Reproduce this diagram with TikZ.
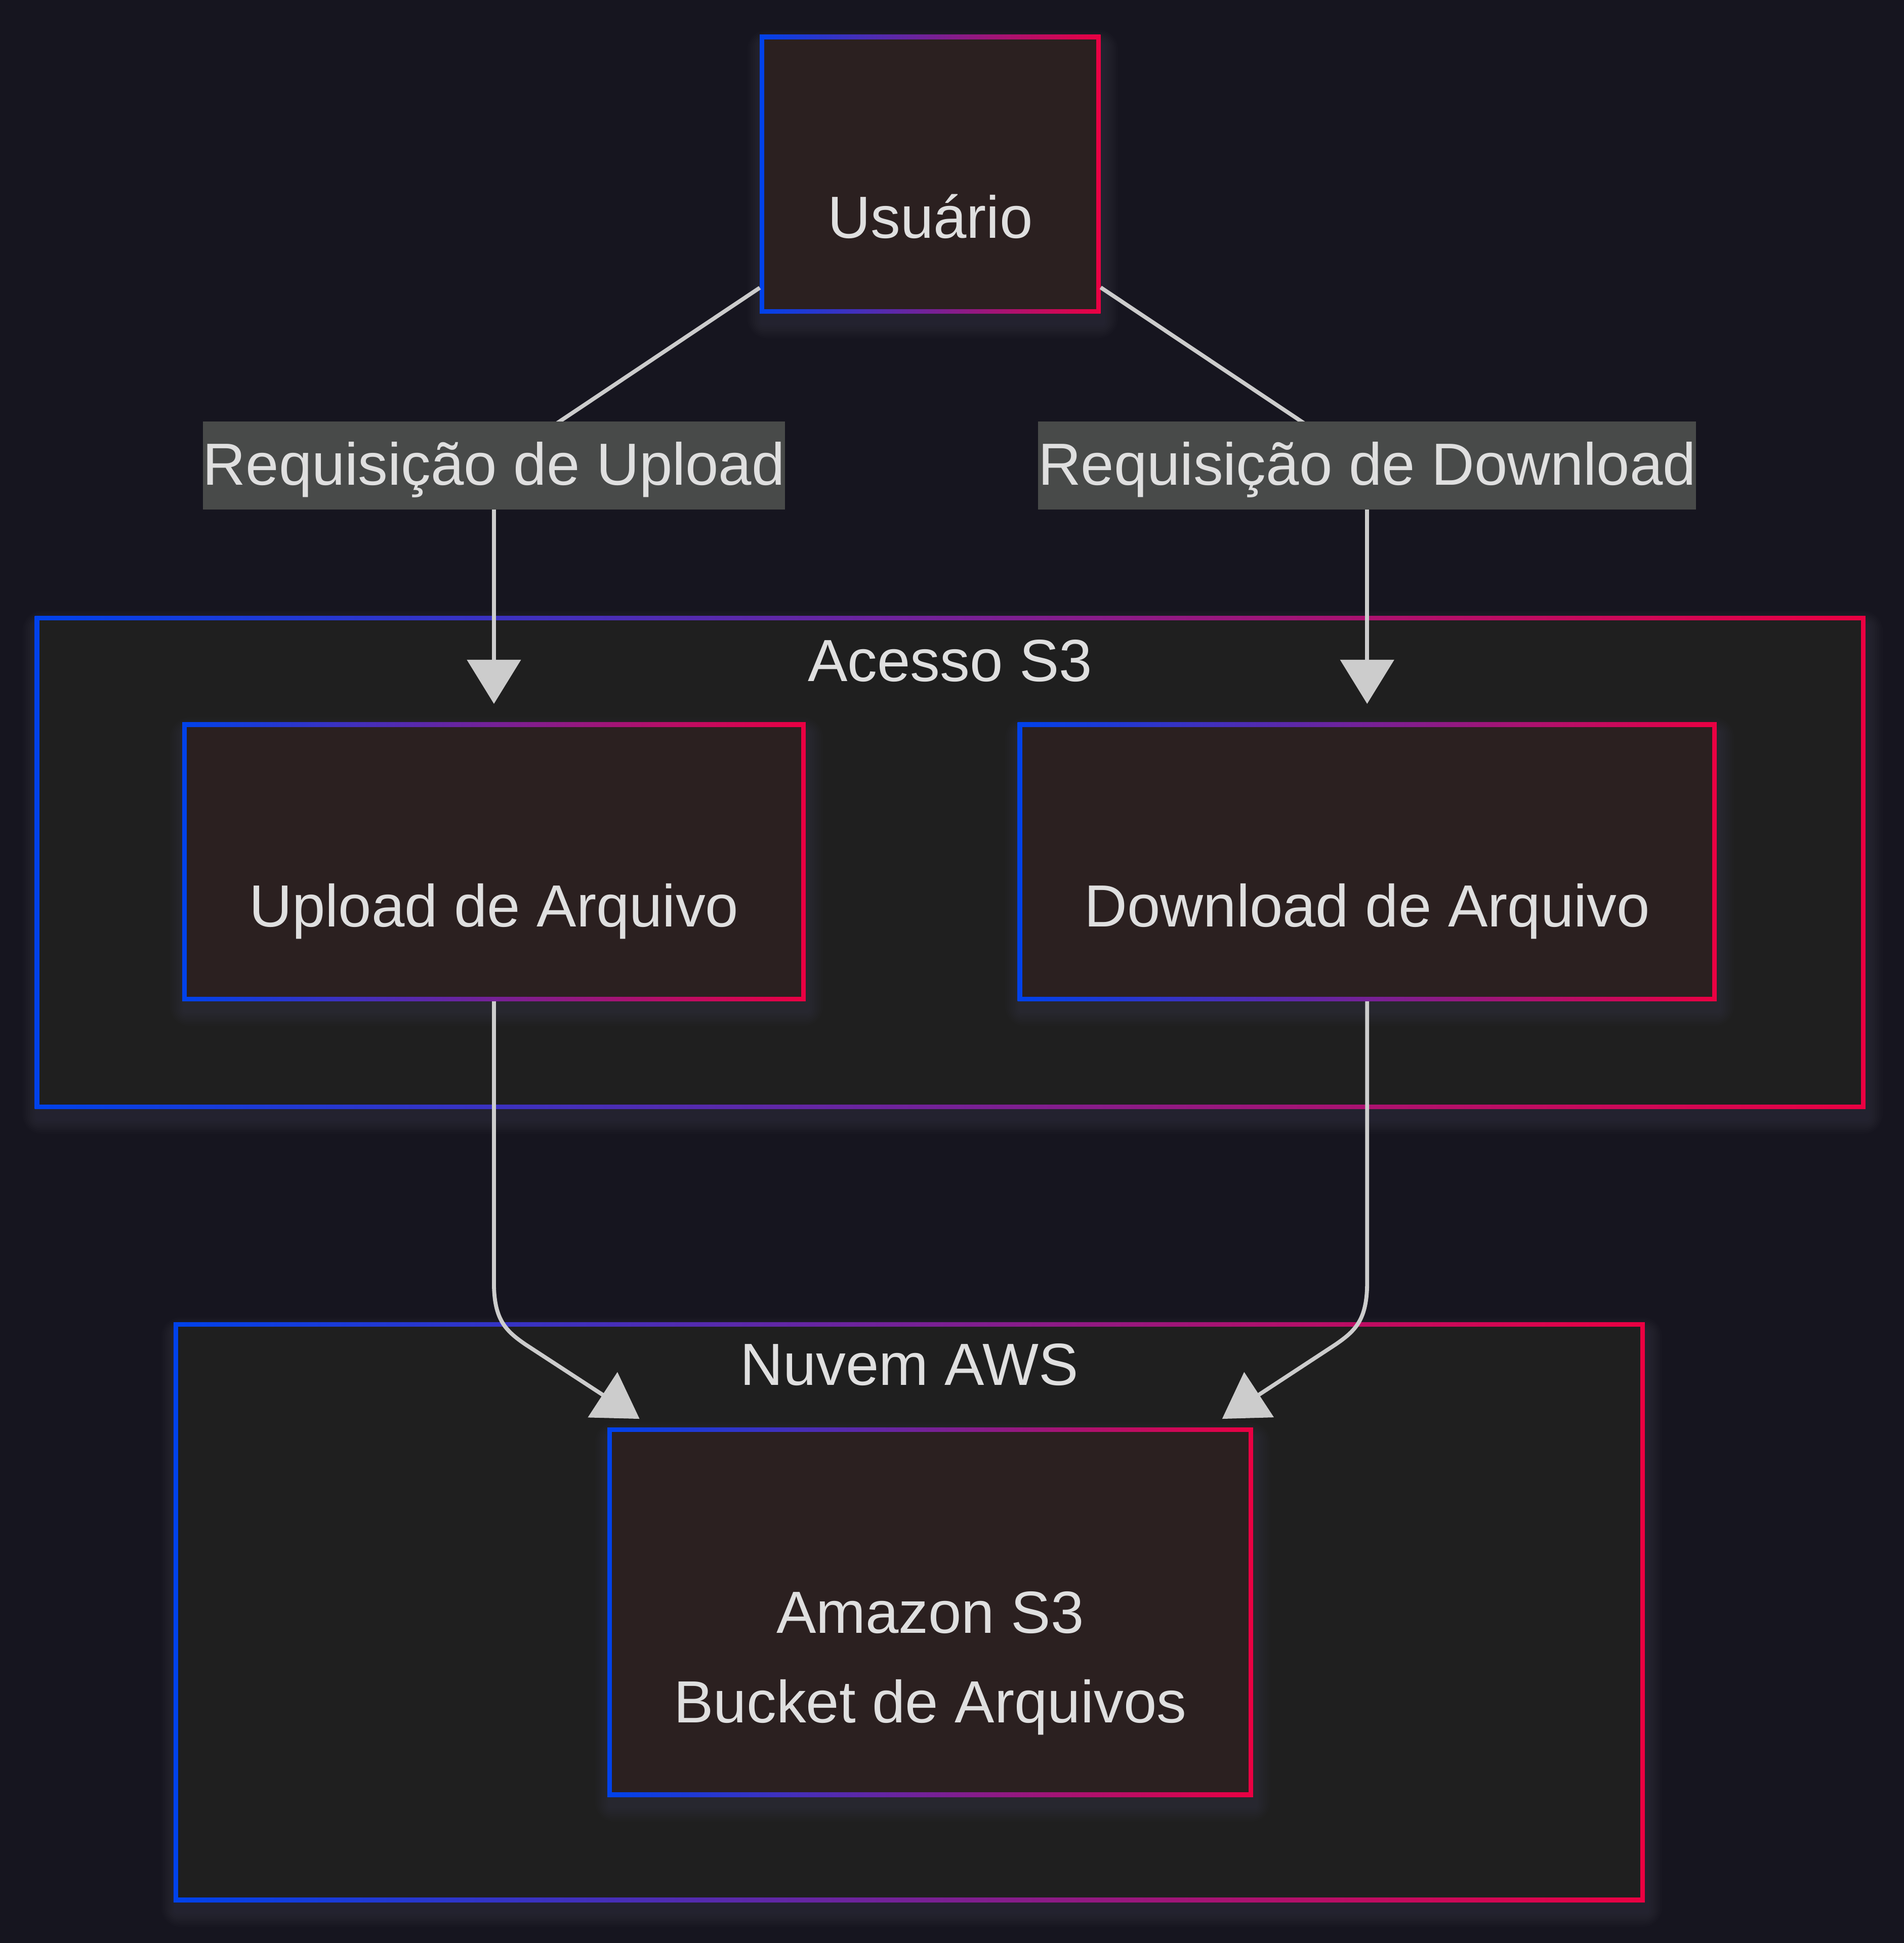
\documentclass[tikz,border=0pt]{standalone}
\usepackage{fontspec}
\setmainfont{Liberation Sans}
\usetikzlibrary{arrows.meta,calc}
\definecolor{bgc}{HTML}{16151F}
\definecolor{clusterc}{HTML}{1F1F1F}
\definecolor{nodec}{HTML}{2B2020}
\definecolor{gblue}{HTML}{0042EB}
\definecolor{gred}{HTML}{EB0042}
\definecolor{txtc}{HTML}{DFDFDF}
\definecolor{edgec}{HTML}{CCCCCC}
\definecolor{lblc}{HTML}{484A49}
\definecolor{glowc}{HTML}{C8C8E0}
\tikzset{
  gbox/.style={rectangle, inner sep=0pt, outer sep=0pt, draw=none,
    left color=gblue, right color=gred,
    path picture={\fill[#1] ([xshift=1.85pt,yshift=-1.85pt]path picture bounding box.north west)
      rectangle ([xshift=-1.85pt,yshift=1.85pt]path picture bounding box.south east);}},
  txt/.style={text=txtc, inner sep=0pt, outer sep=0pt, anchor=base,
    font=\fontsize{24pt}{36pt}\selectfont},
  lbl/.style={fill=lblc, text=txtc, inner xsep=0pt, inner ysep=0pt, outer sep=0pt,
    text height=25.7pt, text depth=9.8pt, font=\fontsize{24pt}{36pt}\selectfont},
  edge/.style={draw=edgec, line width=1.6pt},
  arr/.style={-{Triangle[width=21.5pt,length=17.8pt]}},
}
\newcommand\glowat[4]{%
  \foreach \r in {1,...,8}{%
    \fill[glowc, opacity=0.013, rounded corners=\r pt]
      ({#1-#3/2-1.5*\r+2},{#2-#4/2-1.5*\r+8}) rectangle ({#1+#3/2+1.5*\r+2},{#2+#4/2+1.5*\r+8});
  }}
\newcommand\boxnode[6]{% name, cx, cy, w, h, fill
  \glowat{#2}{#3}{#4}{#5}%
  \node[gbox=#6, minimum width={#4*0.5pt}, minimum height={#5*0.5pt}] (#1) at (#2,#3) {};
}
\begin{document}
\begin{tikzpicture}[x=0.5pt,y=-0.5pt]
\fill[bgc] (0,0) rectangle (1536,1568);
\useasboundingbox (0,0) rectangle (1536,1568);

% clusters
\boxnode{acesso}{766.5}{696}{1477}{398}{clusterc}
\node[txt] (acessoT) at (766.5,550) {Acesso S3};
\boxnode{nuvem}{733.5}{1301}{1187}{468}{clusterc}
\node[txt] (nuvemT) at (733.5,1118) {Nuvem AWS};

% nodes
\boxnode{user}{750.5}{140.5}{275}{225}{nodec}
\node[txt] (userT) at (750.5,192) {Usuário};
\boxnode{upload}{398.5}{695.5}{503}{225}{nodec}
\node[txt] (uploadT) at (398.5,748) {Upload de Arquivo};
\boxnode{download}{1103}{695.5}{564}{225}{nodec}
\node[txt] (downloadT) at (1103,748) {Download de Arquivo};
\boxnode{s3}{750.5}{1301}{521}{298}{nodec}
\node[txt] (s3T1) at (750.5,1318) {Amazon S3};
\node[txt] (s3T2) at (750.5,1390) {Bucket de Arquivos};

% label centres and arrow ends
\coordinate (lu) at (398.5,375.5);
\coordinate (ld) at (1103,375.5);
\coordinate (t1) at ($(s3.north west)+(26,-7)$);
\coordinate (t2) at ($(s3.north east)+(-25,-7)$);

% edges
\draw[edge] (user) -- (lu);
\draw[edge] (user) -- (ld);
\draw[edge,arr] (lu) -- ([yshift=7.5pt]upload.north);
\draw[edge,arr] (ld) -- ([yshift=7.5pt]download.north);
\draw[edge,arr] (upload.south) -- (398.5,1035) .. controls (398.5,1065) and (408,1074) .. (424,1085) -- (t1);
\draw[edge,arr] (download.south) -- (1103,1035) .. controls (1103,1065) and (1093.5,1074) .. (1077.5,1085) -- (t2);

% edge labels
\node[lbl] (lblUp) at (lu) {Requisição de Upload};
\node[lbl] (lblDown) at (ld) {Requisição de Download};
\end{tikzpicture}
\end{document}
